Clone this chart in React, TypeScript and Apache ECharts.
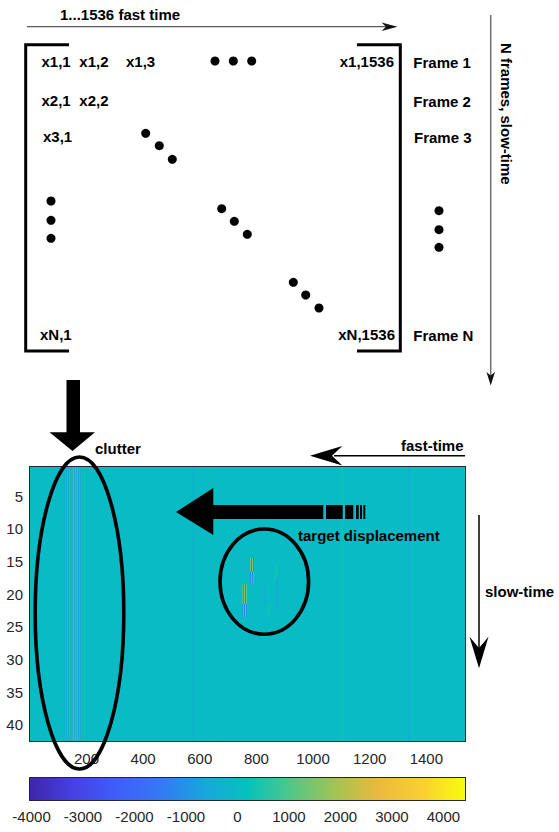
import React, { useEffect, useRef } from 'react';
import * as echarts from 'echarts';

// ---------- data ----------
const FAST_TIME_RANGE = [0.5, 1536.5];
const SLOW_TIME_RANGE = [0.5, 42.5];
const X_TICK_STEP = 200;
const Y_TICK_STEP = 5;
const COLOR_RANGE = [-4030, 4420];
const COLOR_TICK_STEP = 1000;

// parula-like colormap, evenly spaced stops
const PARULA = ['#3e26a8', '#4641e4', '#3f5ef8', '#3479f4', '#18a6dd', '#05c1bc', '#50c887', '#a2c353', '#ebb93e', '#f9cf33', '#f9fb0e'];

// background amplitude (whole matrix)
const BACKGROUND_VALUE = 0;
// clutter stripes spanning all frames: [fastStart, fastEnd, value]
const CLUTTER_STRIPES = [
  [120, 124, -300],
  [124, 128, 400],
  [128, 132, -400],
  [132, 136, 500],
  [136, 140, -500],
  [140, 144, 600],
  [144, 148, -600],
  [148, 151, 900],
  [151, 154, -800],
  [154, 157, 1900],
  [157, 160, -900],
  [160, 163, 1100],
  [163, 166, -700],
  [166, 170, 800],
  [170, 174, -600],
  [174, 178, 600],
  [178, 182, -500],
  [182, 186, 500],
  [186, 190, -300],
  [190, 195, 300],
];
// faint stripes elsewhere: [fastStart, fastEnd, value]
const FAINT_STRIPES = [
  [575, 580, -300],
  [652, 656, 250],
  [1100, 1106, 300],
  [1336, 1342, -350],
  [1354, 1358, 250],
];
// target displacement patches: [fastStart, fastEnd, firstFrame, lastFrame, value]
const TARGET_PATCHES = [
  [779, 782, 15, 16, 2400],
  [782, 785, 15, 16, -1800],
  [785, 788, 15, 16, 1800],
  [788, 791, 15, 16, -1200],
  [779, 782, 17, 18, -1800],
  [782, 785, 17, 18, 1600],
  [785, 788, 17, 18, -1400],
  [788, 791, 17, 18, 900],
  [751, 754, 19, 21, 2200],
  [754, 757, 19, 21, -1800],
  [757, 760, 19, 21, 2000],
  [760, 763, 19, 21, -1400],
  [763, 767, 19, 21, 1000],
  [751, 754, 22, 23, -1600],
  [754, 757, 22, 23, 2000],
  [757, 760, 22, 23, -1700],
  [760, 763, 22, 23, 1300],
  [763, 767, 22, 23, -800],
  [826, 832, 19, 21, -400],
  [870, 876, 18, 22, -500],
  [840, 846, 22, 23, 350],
  [868, 874, 16, 17, 400],
];

const FONT = '"Liberation Sans", Arial, Helvetica, sans-serif';
const DARK = '#262626';

function buildCells() {
  const cells: number[][] = [];
  cells.push([FAST_TIME_RANGE[0], FAST_TIME_RANGE[1], SLOW_TIME_RANGE[0], SLOW_TIME_RANGE[1], BACKGROUND_VALUE]);
  CLUTTER_STRIPES.forEach(([a, b, v]) => cells.push([a, b, SLOW_TIME_RANGE[0], SLOW_TIME_RANGE[1], v]));
  FAINT_STRIPES.forEach(([a, b, v]) => cells.push([a, b, SLOW_TIME_RANGE[0], SLOW_TIME_RANGE[1], v]));
  TARGET_PATCHES.forEach(([a, b, r0, r1, v]) => cells.push([a, b, r0 - 0.5, r1 + 0.5, v]));
  return cells;
}

function txt(text: string, x: number, y: number, align = 'left', extra: any = {}) {
  return {
    type: 'text',
    x,
    y,
    z: 100,
    ...extra,
    style: {
      text,
      fill: '#000',
      fontSize: 15,
      fontWeight: 'bold',
      fontFamily: FONT,
      align,
      verticalAlign: 'middle',
    },
  };
}
function dot(cx: number, cy: number) {
  return { type: 'circle', z: 100, shape: { cx, cy, r: 4.5 }, style: { fill: '#000' } };
}
function poly(points: number[][], fill = '#000') {
  return { type: 'polygon', z: 100, shape: { points }, style: { fill } };
}
function line(x1: number, y1: number, x2: number, y2: number, stroke = '#000', lineWidth = 1.5) {
  return { type: 'line', z: 100, shape: { x1, y1, x2, y2 }, style: { stroke, lineWidth } };
}
function rect(x: number, y: number, width: number, height: number) {
  return { type: 'rect', z: 100, shape: { x, y, width, height }, style: { fill: '#000' } };
}

export default function App() {
  const ref = useRef<HTMLDivElement>(null);
  useEffect(() => {
    document.body.style.margin = '0';
    if (!ref.current) return;
    const chart = echarts.init(ref.current, null, { renderer: 'svg' });

    const axisBase = {
      type: 'value',
      axisLine: { show: true, onZero: false, lineStyle: { color: DARK, width: 2 } },
      axisTick: { show: true, inside: true, length: 5, lineStyle: { color: DARK, width: 1.5 } },
      splitLine: { show: false },
      axisLabel: { color: DARK, fontSize: 15, fontFamily: FONT, showMinLabel: false, showMaxLabel: false, formatter: (v: number) => String(v) },
    };
    const noLabel = { ...axisBase.axisLabel, show: false };

    const gradStops = PARULA.map((c, i) => ({ offset: i / (PARULA.length - 1), color: c }));

    const graphics: any[] = [
      // top panel
      txt('1...1536 fast time', 60, 14.5),
      line(27, 26.7, 388, 26.7, '#5a5a5a', 1.3),
      poly([[397.5, 26.7], [381.5, 22.5], [386, 26.7], [381.5, 31]], '#111'),
      { type: 'polyline', z: 100, shape: { points: [[69, 44.7], [25.7, 44.7], [25.7, 351], [69, 351]] }, style: { stroke: '#000', lineWidth: 3, fill: null, lineJoin: 'miter' } },
      { type: 'polyline', z: 100, shape: { points: [[357, 44.7], [400.3, 44.7], [400.3, 351], [357, 351]] }, style: { stroke: '#000', lineWidth: 3, fill: null, lineJoin: 'miter' } },
      txt('x1,1', 41.5, 61.5),
      txt('x1,2', 79.3, 61.5),
      txt('x1,3', 126, 61.5),
      txt('x1,1536', 394, 61.5, 'right'),
      txt('x2,1', 41.5, 100),
      txt('x2,2', 79.3, 100),
      txt('x3,1', 43, 136.7),
      txt('xN,1', 40, 334),
      txt('xN,1536', 395, 334.5, 'right'),
      txt('Frame 1', 413.3, 62),
      txt('Frame 2', 413.3, 101),
      txt('Frame 3', 414, 137.5),
      txt('Frame N', 413.3, 335),
      dot(215, 61), dot(233.3, 61), dot(251.7, 61),
      dot(145.7, 133.3), dot(159.3, 145.7), dot(172.3, 159.3),
      dot(51, 201), dot(51, 220.3), dot(51, 238.3),
      dot(221.7, 208.7), dot(234.3, 221.3), dot(247.3, 234.3),
      dot(293.3, 282.3), dot(305.7, 295), dot(319, 308),
      dot(439, 210.7), dot(439, 229.7), dot(439, 247.3),
      line(490.7, 15, 490.7, 376, '#707070', 1.5),
      poly([[490.7, 385.5], [486.5, 372], [490.7, 375.5], [495, 372]], '#111'),
      txt('N frames, slow-time', 506.5, 43, 'left', { rotation: -Math.PI / 2 }),
      // lower panel annotations
      poly([[66.5, 380], [80, 380], [80, 432.3], [95, 432.3], [72.5, 451], [49.5, 432.3], [66.5, 432.3]]),
      txt('clutter', 95, 448.5),
      txt('fast-time', 463.5, 445, 'right'),
      line(465, 455.7, 334, 455.7, '#000', 1.5),
      poly([[310, 455.7], [342.3, 446], [332, 455.7], [342.3, 465.5]]),
      poly([[176, 512], [213.3, 488], [213.3, 505], [323.3, 505], [323.3, 519], [213.3, 519], [213.3, 535]]),
      rect(326, 505, 16.7, 14),
      rect(345, 505, 8.3, 14),
      rect(356, 505, 2.7, 14),
      rect(360, 505, 2, 14),
      rect(363.3, 505, 2, 14),
      txt('target displacement', 298, 535.5),
      { type: 'ellipse', z: 100, shape: { cx: 79.5, cy: 613, rx: 44.3, ry: 156 }, style: { stroke: '#000', lineWidth: 3.6, fill: null } },
      { type: 'ellipse', z: 100, shape: { cx: 264.3, cy: 581.6, rx: 44.3, ry: 52.6 }, style: { stroke: '#000', lineWidth: 3.6, fill: null } },
      line(479, 515, 479, 650, '#000', 1.5),
      poly([[479, 668.3], [469.5, 636.7], [479, 648], [488.5, 636.7]]),
      txt('slow-time', 485, 591.5),
    ];

    chart.setOption({
      animation: false,
      grid: [
        { left: 30, top: 467, width: 435, height: 274 },
        { left: 30, top: 778, width: 435, height: 22 },
      ],
      visualMap: {
        type: 'continuous',
        show: false,
        seriesIndex: 0,
        dimension: 4,
        min: COLOR_RANGE[0],
        max: COLOR_RANGE[1],
        inRange: { color: PARULA },
      },
      xAxis: [
        { ...axisBase, gridIndex: 0, position: 'bottom', min: FAST_TIME_RANGE[0], max: FAST_TIME_RANGE[1], minInterval: X_TICK_STEP, maxInterval: X_TICK_STEP, axisLabel: { ...axisBase.axisLabel, margin: 10 } },
        { ...axisBase, gridIndex: 0, position: 'top', min: FAST_TIME_RANGE[0], max: FAST_TIME_RANGE[1], minInterval: X_TICK_STEP, maxInterval: X_TICK_STEP, axisLabel: noLabel },
        { ...axisBase, gridIndex: 1, position: 'bottom', min: COLOR_RANGE[0], max: COLOR_RANGE[1], minInterval: COLOR_TICK_STEP, maxInterval: COLOR_TICK_STEP, axisTick: { ...axisBase.axisTick, length: 4 }, axisLabel: { ...axisBase.axisLabel, margin: 9 } },
        { ...axisBase, gridIndex: 1, position: 'top', min: COLOR_RANGE[0], max: COLOR_RANGE[1], axisTick: { show: false }, axisLabel: noLabel },
      ],
      yAxis: [
        { ...axisBase, gridIndex: 0, position: 'left', inverse: true, min: SLOW_TIME_RANGE[0], max: SLOW_TIME_RANGE[1], minInterval: Y_TICK_STEP, maxInterval: Y_TICK_STEP, axisLabel: { ...axisBase.axisLabel, margin: 7 } },
        { ...axisBase, gridIndex: 0, position: 'right', inverse: true, min: SLOW_TIME_RANGE[0], max: SLOW_TIME_RANGE[1], minInterval: Y_TICK_STEP, maxInterval: Y_TICK_STEP, axisLabel: noLabel },
        { ...axisBase, gridIndex: 1, position: 'left', min: 0, max: 1, axisTick: { show: false }, axisLabel: noLabel },
        { ...axisBase, gridIndex: 1, position: 'right', min: 0, max: 1, axisTick: { show: false }, axisLabel: noLabel },
      ],
      series: [
        {
          type: 'custom',
          xAxisIndex: 0,
          yAxisIndex: 0,
          encode: { x: [0, 1], y: [2, 3] },
          data: buildCells(),
          renderItem: (params: any, api: any) => {
            const a = api.coord([api.value(0), api.value(2)]);
            const b = api.coord([api.value(1), api.value(3)]);
            return {
              type: 'rect',
              shape: { x: Math.min(a[0], b[0]), y: Math.min(a[1], b[1]), width: Math.abs(b[0] - a[0]), height: Math.abs(b[1] - a[1]) },
              style: { fill: api.visual('color') },
            };
          },
        },
        {
          type: 'custom',
          xAxisIndex: 2,
          yAxisIndex: 2,
          encode: { x: [0, 1], y: [2, 3] },
          data: [[COLOR_RANGE[0], COLOR_RANGE[1], 0, 1]],
          renderItem: (params: any, api: any) => {
            const a = api.coord([api.value(0), api.value(2)]);
            const b = api.coord([api.value(1), api.value(3)]);
            return {
              type: 'rect',
              shape: { x: Math.min(a[0], b[0]), y: Math.min(a[1], b[1]), width: Math.abs(b[0] - a[0]), height: Math.abs(b[1] - a[1]) },
              style: { fill: new echarts.graphic.LinearGradient(0, 0, 1, 0, gradStops) },
            };
          },
        },
      ],
      graphic: graphics,
    });
    return () => chart.dispose();
  }, []);
  return <div ref={ref} style={{ width: 559, height: 832 }} />;
}
